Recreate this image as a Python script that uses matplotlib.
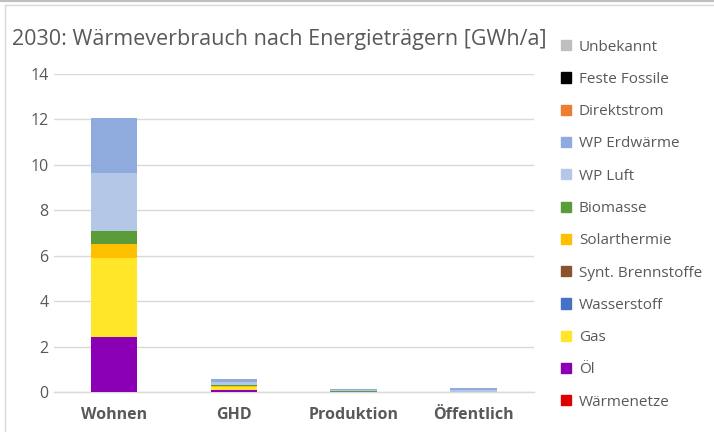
import matplotlib.pyplot as plt
import matplotlib.patches as mpatches
from matplotlib.lines import Line2D
import numpy as np

plt.rcParams['font.family'] = ['Open Sans', 'DejaVu Sans']

categories = ['Wohnen', 'GHD', 'Produktion', 'Öffentlich']

# stack order, bottom to top
carriers = ['Wärmenetze', 'Öl', 'Gas', 'Wasserstoff', 'Synt. Brennstoffe',
            'Solarthermie', 'Biomasse', 'WP Luft', 'WP Erdwärme',
            'Direktstrom', 'Feste Fossile', 'Unbekannt']
colors = ['#E00000', '#8B00B4', '#FFE629', '#4472C4', '#8B5230',
          '#FFC000', '#5B9B3A', '#B4C7E7', '#8FAADC',
          '#ED7D31', '#000000', '#BFBFBF']

waermenetze = [0.0, 0.0, 0.0, 0.0]
oel = [2.42, 0.10, 0.0, 0.0]
gas = [3.50, 0.12, 0.01, 0.01]
wasserstoff = [0.0, 0.0, 0.0, 0.0]
synt = [0.0, 0.0, 0.0, 0.0]
solar = [0.60, 0.05, 0.0, 0.0]
biomasse = [0.57, 0.03, 0.03, 0.01]
wp_luft = [2.56, 0.15, 0.03, 0.08]
wp_erd = [2.43, 0.12, 0.04, 0.08]
direktstrom = [0.0, 0.0, 0.0, 0.0]
feste = [0.0, 0.0, 0.0, 0.0]
unbekannt = [0.0, 0.0, 0.0, 0.0]

series = [waermenetze, oel, gas, wasserstoff, synt, solar, biomasse,
          wp_luft, wp_erd, direktstrom, feste, unbekannt]

text_col = '#595959'
grid_col = '#D9D9D9'

fig = plt.figure(figsize=(7.14, 4.32), dpi=100)
ax = fig.add_axes([0.0756, 0.0926, 0.672, 0.736])

x = np.arange(len(categories))
bottom = np.zeros(len(categories))
for name, vals, c in zip(carriers, series, colors):
    ax.bar(x, vals, 0.39, bottom=bottom, color=c, label=name, zorder=3)
    bottom += np.array(vals)

ax.set_xlim(-0.5, len(categories) - 0.5)
ax.set_ylim(0, 14)
ax.set_yticks(np.arange(0, 15, 2))
ax.grid(axis='y', color=grid_col, linewidth=1, zorder=0)
for s in ['top', 'right', 'left']:
    ax.spines[s].set_visible(False)
ax.spines['bottom'].set_color(grid_col)
ax.spines['bottom'].set_linewidth(1)
ax.set_xticks(x)
ax.set_xticklabels(categories, fontweight='bold')
ax.tick_params(axis='both', length=0, colors=text_col, labelsize=11.5)
ax.tick_params(axis='y', pad=4)
ax.tick_params(axis='x', pad=11)

fig.text(0.017, 0.908, '2030: Wärmeverbrauch nach Energieträgern [GWh/a]',
         fontsize=15.5, color=text_col, va='center')

handles = [mpatches.Patch(color=c) for c in colors][::-1]
labels = carriers[::-1]
leg = fig.legend(handles, labels, loc='upper left', bbox_to_anchor=(0.767, 0.94),
                 frameon=False, fontsize=11, labelspacing=1.13,
                 handlelength=0.65, handleheight=0.65, handletextpad=0.5)
for t in leg.get_texts():
    t.set_color(text_col)

# chart frame lines
fig.add_artist(Line2D([0.0, 1.0], [0.998, 0.998], color='#BFBFBF', lw=1.5,
                      transform=fig.transFigure))
fig.add_artist(Line2D([0.0075, 0.0075], [0.0, 0.988], color='#D9D9D9', lw=1,
                      transform=fig.transFigure))
fig.add_artist(Line2D([0.0075, 1.0], [0.988, 0.988], color='#D9D9D9', lw=1,
                      transform=fig.transFigure))

fig.savefig('out.png', dpi=100)
